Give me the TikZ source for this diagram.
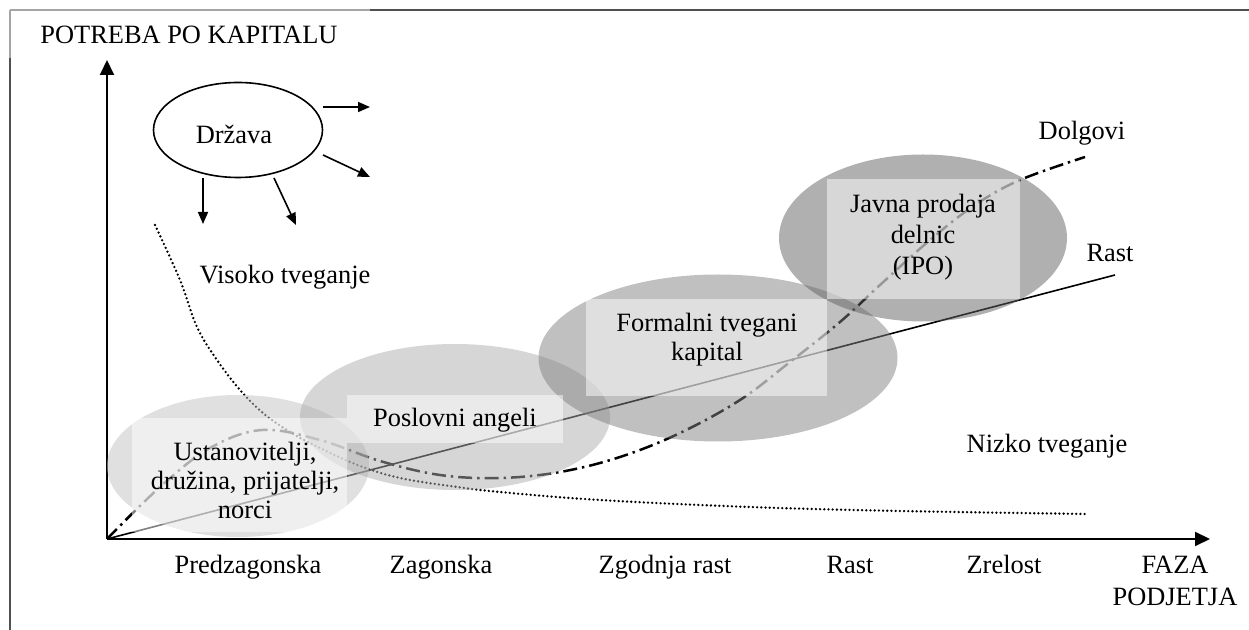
\documentclass[tikz,border=0pt]{standalone}
\usepackage{fontspec}
\setmainfont{Liberation Serif}
\usetikzlibrary{shapes.geometric,arrows.meta}
\definecolor{stA}{RGB}{193,193,193}
\definecolor{stB}{RGB}{173,173,173}
\definecolor{stC}{RGB}{129,129,129}
\definecolor{stD}{RGB}{97,97,97}
\definecolor{frameLight}{RGB}{165,165,165}
\definecolor{frameDark}{RGB}{80,80,80}
\begin{document}
\begin{tikzpicture}[x=0.5pt,y=-0.5pt,
  every node/.style={font=\fontsize{13.2}{14.5}\selectfont, inner sep=0pt, align=center},
  stage/.style={ellipse, draw=none, fill opacity=0.5, inner sep=0pt},
  lbox/.style={rectangle, fill=white, fill opacity=0.5, draw=none, inner sep=0pt},
  axisline/.style={line width=1pt, -{Triangle[length=7.5pt,width=7pt]}},
  darrow/.style={line width=0.8pt, -{Triangle[length=6pt,width=5pt]}},
  dashdot/.style={line width=1.25pt, dash pattern=on 7pt off 2.5pt on 1.2pt off 2.5pt},
  dotline/.style={line width=1.3pt, line cap=round, dash pattern=on 0pt off 2.1pt},
  framel/.style={line width=1pt},
  phase/.style={anchor=base}]
\useasboundingbox (0,0) rectangle (1249,630);
% frame
\coordinate (fA) at (10,10);
\coordinate (fB) at (370,10);
\coordinate (fC) at (1249,10);
\coordinate (fD) at (10,58);
\coordinate (fE) at (10,630);
\draw[framel, frameLight] (fA) -- (fB);
\draw[framel, frameDark] (fB) -- (fC);
\draw[framel, frameLight] (fA) -- (fD);
\draw[framel, frameDark] (fD) -- (fE);
% axes
\coordinate (O) at (107,539);
\coordinate (ytop) at (107,60);
\coordinate (xend) at (1210,539);
\draw[axisline] (O) -- (ytop);
\draw[axisline] (O) -- (xend);
% curves
\coordinate (rastend) at (1115,275);
\draw[line width=0.8pt] (O) -- (rastend);
\coordinate (dolgend) at (1085,157);
\draw[dashdot] plot[smooth, tension=0.6] coordinates {(107,539) (160,487) (210,448) (262,430) (320,440) (380,461) (440,475) (500,478) (560,472) (620,457) (680,433) (740,400) (790,362) (840,322) (880,285) (930,240) (975,205) (1020,180) (1085,157)};
\draw[dotline] plot[smooth, tension=0.6] coordinates {(155,225) (180,280) (197,327) (217,360) (240,390) (263,413) (290,432) (320,448) (360,466) (400,478) (450,486) (500,492) (600,500) (750,507) (900,511) (1088,514)};
% stage ellipses
\node[stage, fill=stA, minimum width=131pt, minimum height=71pt] (e1) at (238,466) {};
\node[stage, fill=stB, minimum width=155pt, minimum height=73pt] (e2) at (455,417) {};
\node[stage, fill=stC, minimum width=179.5pt, minimum height=83.5pt] (e3) at (718,358) {};
\node[stage, fill=stD, minimum width=144pt, minimum height=83.5pt] (e4) at (923,238) {};
% label boxes
\node[lbox, minimum width=107.5pt, minimum height=57pt] (b1) at (239.5,475) {};
\node[lbox, minimum width=108pt, minimum height=24pt] (b2) at (455,419) {};
\node[lbox, minimum width=120.5pt, minimum height=48.5pt] (b3) at (706.5,347.5) {};
\node[lbox, minimum width=96.5pt, minimum height=60pt] (b4) at (923.5,239) {};
% texts
\node (t1) at (245,480) {Ustanovitelji,\\dru\v{z}ina, prijatelji,\\norci};
\node (t2) at (455,420) {Poslovni angeli};
\node (t3) at (707,340) {Formalni tvegani\\kapital};
\node[font=\fontsize{13.2}{15.5}\selectfont] (t4) at (923,237) {Javna prodaja\\delnic\\(IPO)};
% Drzava
\node[ellipse, draw, line width=0.8pt, minimum width=84.5pt, minimum height=47.5pt] (drz) at (238,130) {};
\node (drzt) at (234,134) {Dr\v{z}ava};
\coordinate (d1s) at (323,107); \coordinate (d1e) at (370,107);
\coordinate (d2s) at (323,155); \coordinate (d2e) at (370,177);
\coordinate (d3s) at (203,178); \coordinate (d3e) at (203,224);
\coordinate (d4s) at (274,178); \coordinate (d4e) at (296,225);
\draw[darrow] (d1s) -- (d1e);
\draw[darrow] (d2s) -- (d2e);
\draw[darrow] (d3s) -- (d3e);
\draw[darrow] (d4s) -- (d4e);
% other labels
\node[anchor=west] (ylab) at (40,35) {POTREBA PO KAPITALU};
\node (vis) at (285,277) {Visoko tveganje};
\node (niz) at (1047,446) {Nizko tveganje};
\node (dolg) at (1082,133) {Dolgovi};
\node (rast) at (1110,253) {Rast};
\node[phase] (p1) at (248,574) {Predzagonska};
\node[phase] (p2) at (441,574) {Zagonska};
\node[phase] (p3) at (665,574) {Zgodnja rast};
\node[phase] (p4) at (850,574) {Rast};
\node[phase] (p5) at (1004,574) {Zrelost};
\node[anchor=base, font=\fontsize{13.2}{16}\selectfont] (p6) at (1175,606) {FAZA\\PODJETJA};
\end{tikzpicture}
\end{document}
